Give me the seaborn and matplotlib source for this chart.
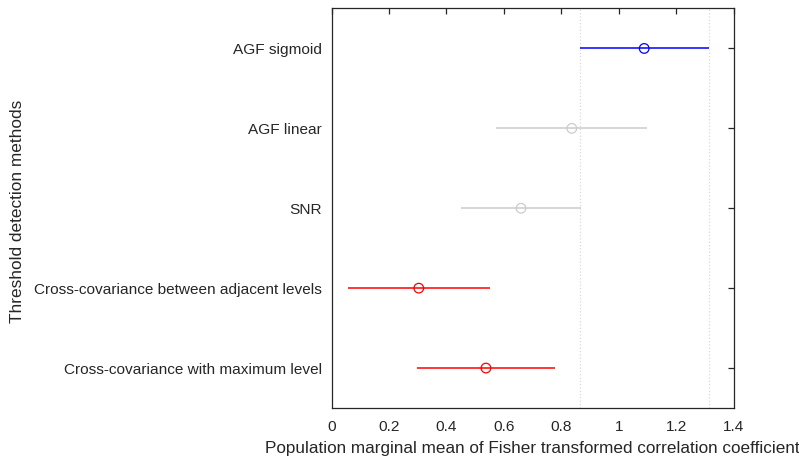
import matplotlib
matplotlib.use("Agg")
import matplotlib.pyplot as plt
import seaborn as sns
import pandas as pd

methods = ["AGF sigmoid", "AGF linear", "SNR",
           "Cross-covariance between adjacent levels",
           "Cross-covariance with maximum level"]
means = [1.089, 0.837, 0.660, 0.304, 0.538]
lower = [0.866, 0.573, 0.451, 0.056, 0.298]
upper = [1.315, 1.100, 0.868, 0.552, 0.779]
status = ["selected", "same", "same", "different", "different"]

palette = {"selected": "#0000ff", "same": "#cccccc", "different": "#ff0000"}

sns.set_theme(style="white")
plt.rcParams["font.family"] = ["Liberation Sans", "DejaVu Sans"]

df = pd.DataFrame({"method": methods, "mean": means, "lo": lower, "hi": upper,
                   "status": status})
n = len(methods)
df["pos"] = [n - i for i in range(n)]

fig = plt.figure(figsize=(7.99, 4.61), dpi=100)
ax = fig.add_axes([331.5 / 799, 1 - 408 / 461, (733.5 - 331.5) / 799, (408 - 8.5) / 461])

sel = df[df.status == "selected"].iloc[0]
for xv in (sel.lo, sel.hi):
    ax.axvline(xv, color="#d9d9d9", ls=":", lw=0.9, zorder=0)

for _, r in df.iterrows():
    ax.hlines(r.pos, r.lo, r.hi, color=palette[r.status], lw=1.1, zorder=2)

sns.scatterplot(data=df, x="mean", y="pos", hue="status", palette=palette,
                ax=ax, s=48, marker="o", facecolor="none", linewidth=0.9,
                legend=False, zorder=3)
coll = ax.collections[-1]
ec = [palette[s] for s in df.status]
coll.set_facecolor("none")
coll.set_edgecolor(ec)

ax.set_xlim(0, 1.4)
ax.set_ylim(0.5, n + 0.5)
ax.set_xticks([0, 0.2, 0.4, 0.6, 0.8, 1, 1.2, 1.4])
ax.set_xticklabels(["0", "0.2", "0.4", "0.6", "0.8", "1", "1.2", "1.4"])
ax.set_yticks(df.pos)
ax.set_yticklabels(methods)

for sp in ax.spines.values():
    sp.set_color("#262626")
    sp.set_linewidth(0.9)
ax.tick_params(direction="in", length=4, width=0.9, color="#262626",
               top=True, right=True, labelsize=11.1, labelcolor="#262626")
ax.tick_params(axis="y", pad=7)
ax.tick_params(axis="x", pad=8.5)
ax.set_xlabel("Population marginal mean of Fisher transformed correlation coefficient",
              fontsize=12.3, color="#262626", labelpad=5)
ax.set_ylabel("Threshold detection methods", fontsize=12.4, color="#262626")
ax.yaxis.set_label_coords(-0.762, 0.492)

fig.savefig("out.png", dpi=100)
